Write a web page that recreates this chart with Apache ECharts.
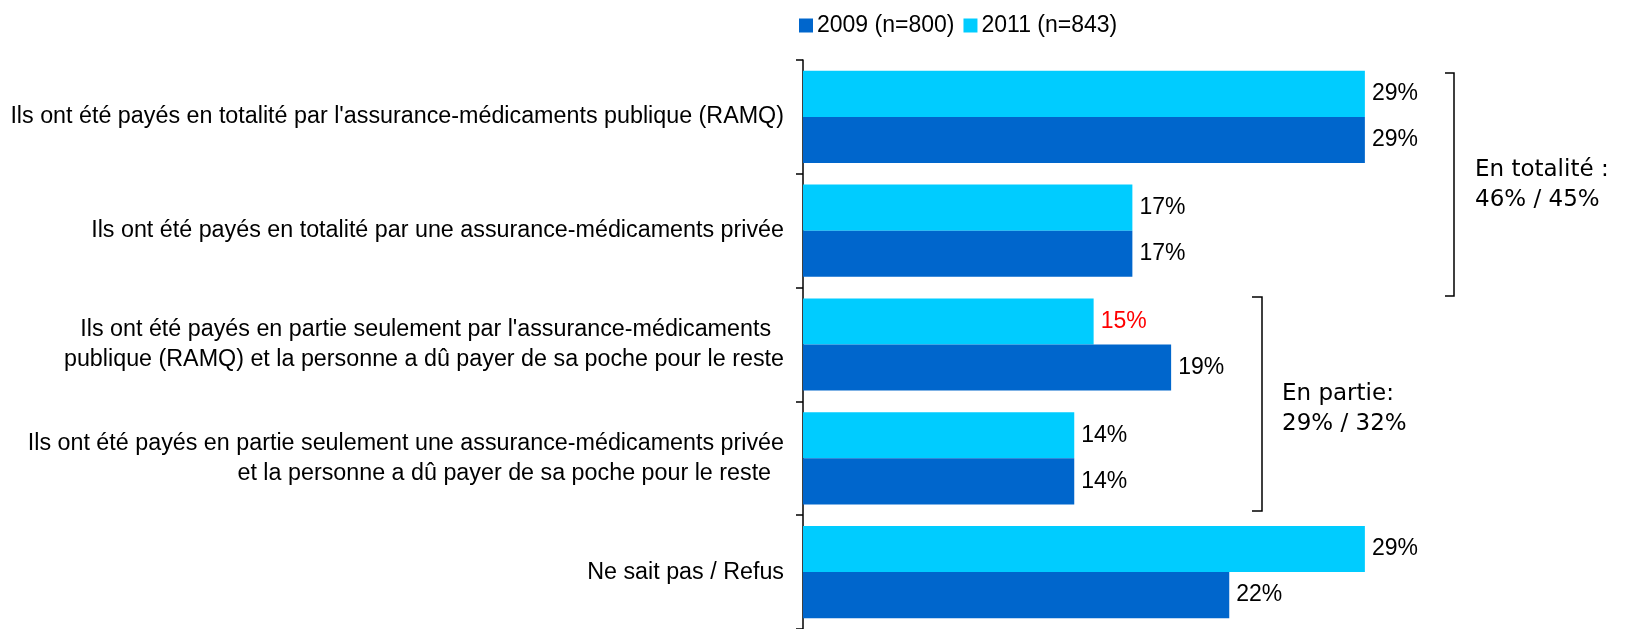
<!DOCTYPE html>
<html>
<head>
<meta charset="utf-8">
<script src="https://cdn.jsdelivr.net/npm/echarts@6/dist/echarts.min.js"></script>
<style>html,body{margin:0;padding:0;background:#fff}#c{width:1629px;height:629px}</style>
</head>
<body>
<div id="c"></div>
<script>
const categories = [
  "Ils ont été payés en totalité par l'assurance-médicaments publique (RAMQ)",
  "Ils ont été payés en totalité par une assurance-médicaments privée",
  "Ils ont été payés en partie seulement par l'assurance-médicaments  \npublique (RAMQ) et la personne a dû payer de sa poche pour le reste",
  "Ils ont été payés en partie seulement une assurance-médicaments privée\net la personne a dû payer de sa poche pour le reste  ",
  "Ne sait pas / Refus"
];
const series2009Name = "2009 (n=800)";
const series2011Name = "2011 (n=843)";
const values2009 = [29, 17, 19, 14, 22];
const values2011 = [29, 17, 15, 14, 29];
const highlight2011 = [false, false, true, false, false];
const bracketTexts = ["En totalité :\n46% / 45%", "En partie:\n29% / 32%"];

const FONT = "'Liberation Sans', Arial, sans-serif";
const BFONT = "'DejaVu Sans', Verdana, sans-serif";
const chart = echarts.init(document.getElementById('c'), null, {renderer: 'canvas'});

const labelBase = {show: true, position: 'right', distance: 7, formatter: '{c}%', color: '#000', fontSize: 23, fontFamily: FONT};

chart.setOption({
  animation: false,
  backgroundColor: '#fff',
  legend: {
    data: [series2009Name, series2011Name],
    left: 794, top: 9,
    itemWidth: 14, itemHeight: 14, itemGap: 9,
    icon: 'rect',
    textStyle: {fontSize: 23, fontFamily: FONT, color: '#000', padding: [0, 0, 0, -1]}
  },
  grid: {left: 803, top: 60, width: 775, height: 569, containLabel: false},
  xAxis: {type: 'value', min: 0, max: 40, show: false, splitLine: {show: false}},
  yAxis: {
    type: 'category', inverse: true, data: categories,
    axisLine: {show: true, lineStyle: {color: '#000', width: 1.5}},
    axisTick: {show: true, length: 7, lineStyle: {color: '#000', width: 1.5}},
    axisLabel: {fontSize: 23.3, fontFamily: FONT, color: '#000', lineHeight: 30, margin: 19, align: 'right'}
  },
  series: [
    {
      name: series2011Name, type: 'bar', barGap: '0%', barCategoryGap: '19%',
      itemStyle: {color: '#00CCFF'},
      label: labelBase,
      data: values2011.map((v, i) => highlight2011[i] ? {value: v, label: {color: '#FF0000'}} : v)
    },
    {
      name: series2009Name, type: 'bar', barGap: '0%', barCategoryGap: '19%',
      itemStyle: {color: '#0066CC'},
      label: labelBase,
      data: values2009
    }
  ],
  graphic: [
    {type: 'polyline', shape: {points: [[1445, 73], [1454, 73], [1454, 296], [1445, 296]]}, style: {stroke: '#000', lineWidth: 1.5, fill: null}},
    {type: 'polyline', shape: {points: [[1252, 297], [1262, 297], [1262, 511], [1252, 511]]}, style: {stroke: '#000', lineWidth: 1.5, fill: null}},
    {type: 'text', left: 1475, top: 155, style: {text: bracketTexts[0], fontSize: 23, fontFamily: BFONT, fill: '#000', lineHeight: 30}},
    {type: 'text', left: 1282, top: 379, style: {text: bracketTexts[1], fontSize: 23, fontFamily: BFONT, fill: '#000', lineHeight: 30}}
  ]
});
</script>
</body>
</html>
